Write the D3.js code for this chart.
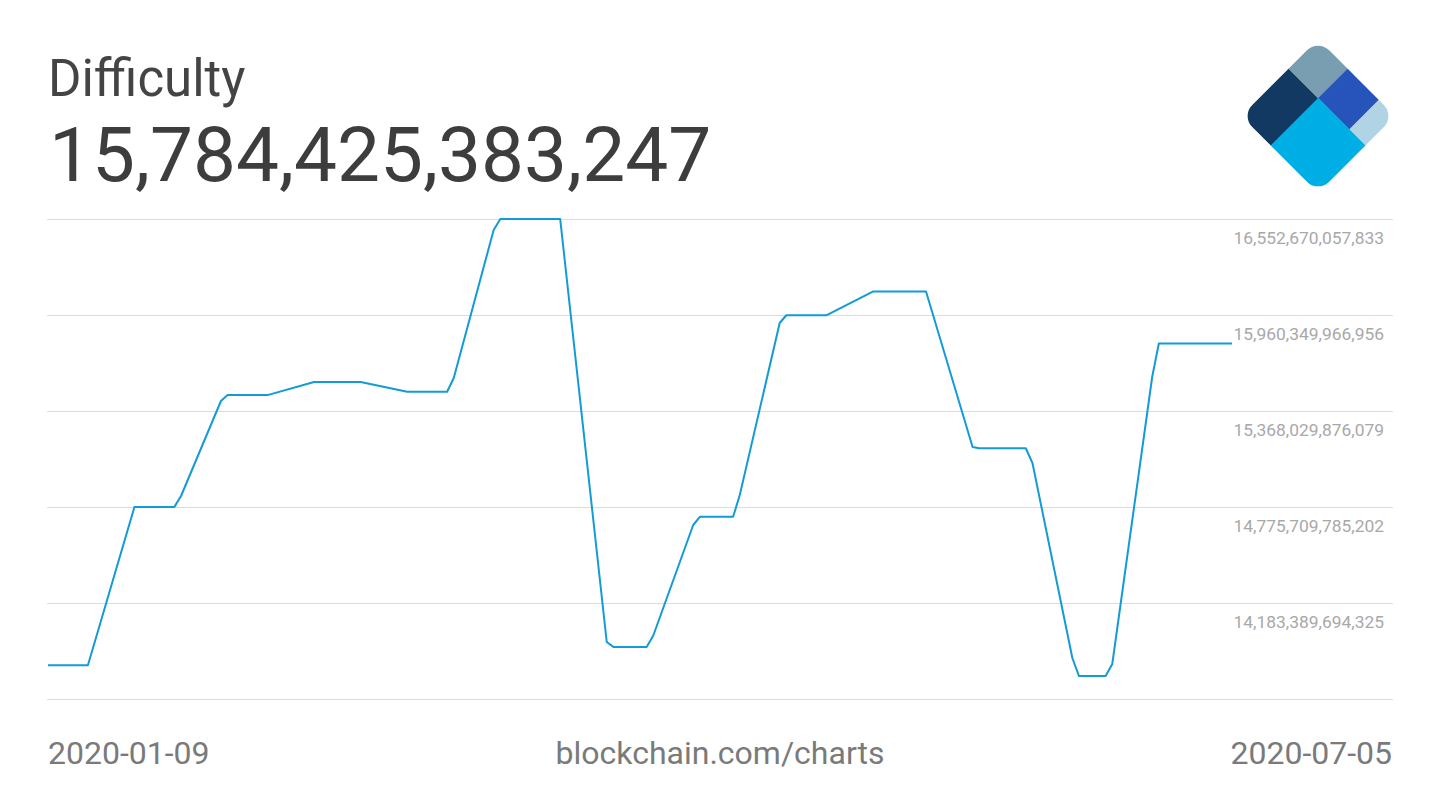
<!DOCTYPE html>
<html>
<head>
<meta charset="utf-8">
<script src="https://cdn.jsdelivr.net/npm/d3@7"></script>
<style>
  html, body { margin: 0; padding: 0; background: #fff; }
  svg { display: block; font-family: Roboto, "Noto Sans", sans-serif; }
</style>
</head>
<body>
<svg id="chart" width="1440" height="810"></svg>
<script>
// ---- data (vertices of the plotted difficulty series) ----
const dates = [
  "2020-01-09","2020-01-15","2020-01-22","2020-01-28","2020-01-29","2020-02-04",
  "2020-02-05","2020-02-11","2020-02-18","2020-02-25","2020-03-03","2020-03-09",
  "2020-03-10","2020-03-16","2020-03-17","2020-03-26","2020-04-02","2020-04-03",
  "2020-04-08","2020-04-09","2020-04-15","2020-04-16","2020-04-21","2020-04-22",
  "2020-04-28","2020-04-29","2020-05-05","2020-05-12","2020-05-20","2020-05-27",
  "2020-05-28","2020-06-04","2020-06-05","2020-06-11","2020-06-12","2020-06-16",
  "2020-06-17","2020-06-23","2020-06-24","2020-07-05"
];
const difficulty = [
  13798783827516, 13798783827516, 14776367535688, 14776367535688, 14843580000000, 15429730000000,
  15466098935554, 15466098935554, 15546745765549, 15546745765549, 15486913440292, 15486913440292,
  15571640000000, 16484800000000, 16552923967337, 16552923967337, 13942760000000, 13912524048945,
  13912524048945, 13982870000000, 14664650000000, 14715214060656, 14715214060656, 14849750000000,
  15910990000000, 15958652328578, 15958652328578, 16104807485529, 16104807485529, 15145910000000,
  15138043247082, 15138043247082, 15047190000000, 13844040000000, 13732352106018, 13732352106018,
  13807020000000, 15577810000000, 15784425383247, 15784425383247
];
const gridValues = [16552670057833, 15960349966956, 15368029876079, 14775709785202, 14183389694325, 13591069603448];
const labelValues = [16552670057833, 15960349966956, 15368029876079, 14775709785202, 14183389694325];
const titleText = "Difficulty";
const currentValue = "15,784,425,383,247";
const startLabel = "2020-01-09";
const endLabel = "2020-07-05";
const sourceLabel = "blockchain.com/charts";
const logoColors = ["#123962", "#799eb2", "#2754ba", "#b1d4e5", "#00aee6"];

// ---- chart ----
const svg = d3.select("#chart");
const parse = d3.utcParse("%Y-%m-%d");
const series = dates.map((d, i) => ({ date: parse(d), value: difficulty[i] }));

const x = d3.scaleUtc()
  .domain([parse(startLabel), parse(endLabel)])
  .range([48, 1232]);
const y = d3.scaleLinear()
  .domain([gridValues[gridValues.length - 1], gridValues[0]])
  .range([699, 219]);

// gridlines
const grid = svg.append("g")
  .attr("transform", "translate(47,0)")
  .call(d3.axisLeft(y).tickValues(gridValues).tickSize(-(1393 - 47)).tickFormat(""));
grid.select(".domain").remove();
grid.selectAll(".tick line").attr("stroke", "#dcdcdc").attr("stroke-width", 1);

// tick labels
const labels = svg.append("g")
  .attr("transform", "translate(1384,0)")
  .call(d3.axisLeft(y).tickValues(labelValues).tickSize(0).tickPadding(0).tickFormat(d3.format(",d")));
labels.select(".domain").remove();
labels.selectAll(".tick text")
  .attr("dy", "1.38em")
  .attr("fill", "#a8a8a8")
  .style("font-size", "17.4px")
  .style("font-family", "Roboto, sans-serif")
  .attr("text-anchor", "end");

// line
const line = d3.line().x(d => x(d.date)).y(d => y(d.value));
svg.append("path")
  .datum(series)
  .attr("fill", "none")
  .attr("stroke", "#139bd7")
  .attr("stroke-width", 2)
  .attr("stroke-linejoin", "round")
  .attr("d", line);

// title & value
svg.append("text").attr("x", 48).attr("y", 96)
  .attr("fill", "#444").style("font-size", "51px").text(titleText);
svg.append("text").attr("x", 49).attr("y", 181)
  .attr("fill", "#3d3d3d").style("font-size", "76.5px").text(currentValue);

// footer
svg.append("text").attr("x", 48).attr("y", 764)
  .attr("fill", "#7a7a7a").style("font-size", "32px").text(startLabel);
svg.append("text").attr("x", 720).attr("y", 764).attr("text-anchor", "middle")
  .attr("fill", "#7a7a7a").style("font-size", "32px").text(sourceLabel);
svg.append("text").attr("x", 1392).attr("y", 764).attr("text-anchor", "end")
  .attr("fill", "#7a7a7a").style("font-size", "32px").text(endLabel);

// logo
const half = 77;
const side = half * Math.SQRT2;
const defs = svg.append("defs");
defs.append("clipPath").attr("id", "logoClip")
  .append("rect").attr("width", side).attr("height", side).attr("rx", 16).attr("ry", 16);
const logo = svg.append("g")
  .attr("transform", `translate(${1318 - half},116) rotate(-45)`)
  .attr("clip-path", "url(#logoClip)");
const a = 0.615 * side, b = 0.385 * side, c = 0.79 * side;
const pieces = [
  { x0: 0, y0: 0, x1: a, y1: b, color: logoColors[0] },
  { x0: a, y0: 0, x1: side, y1: b, color: logoColors[1] },
  { x0: a, y0: b, x1: side, y1: c, color: logoColors[2] },
  { x0: a, y0: c, x1: side, y1: side, color: logoColors[3] },
  { x0: 0, y0: b, x1: a, y1: side, color: logoColors[4] }
];
logo.selectAll("rect.piece").data(pieces).join("rect")
  .attr("class", "piece")
  .attr("x", d => d.x0).attr("y", d => d.y0)
  .attr("width", d => d.x1 - d.x0 + 0.3).attr("height", d => d.y1 - d.y0 + 0.3)
  .attr("fill", d => d.color);
</script>
</body>
</html>
